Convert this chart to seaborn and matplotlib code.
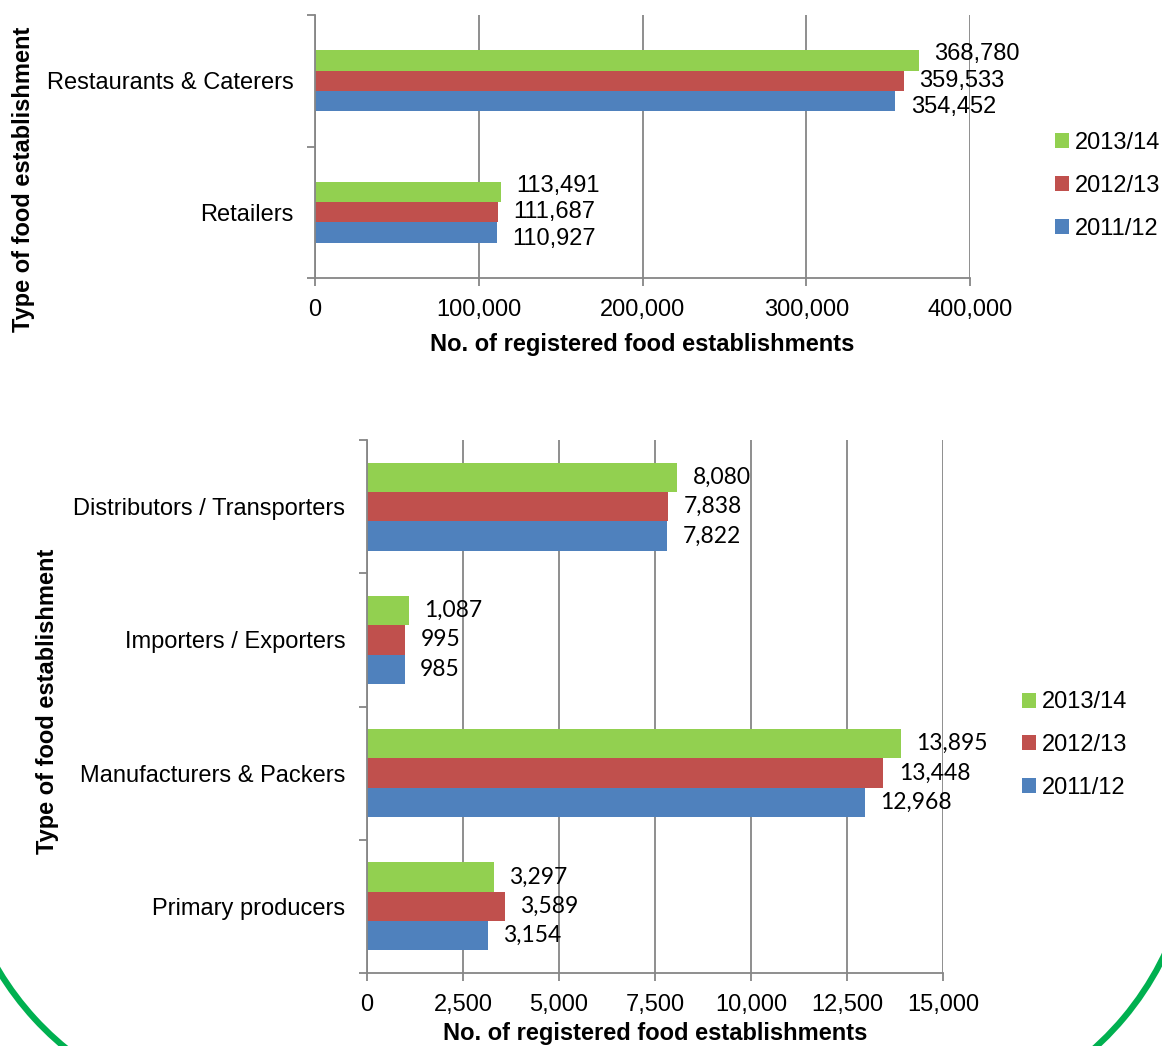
import numpy as np
import pandas as pd
import matplotlib
matplotlib.use("Agg")
import matplotlib.pyplot as plt
import matplotlib.patches as mpatches
from matplotlib.ticker import FuncFormatter, FixedLocator
import seaborn as sns

# Data
YEARS = ["2013/14", "2012/13", "2011/12"]
YEAR_COLORS = {"2013/14": "#92D050", "2012/13": "#C0504D", "2011/12": "#4F81BD"}

TOP_TYPES = ["Restaurants & Caterers", "Retailers"]
TOP_2013 = [368780, 113491]
TOP_2012 = [359533, 111687]
TOP_2011 = [354452, 110927]

BOT_TYPES = ["Distributors / Transporters", "Importers / Exporters",
             "Manufacturers & Packers", "Primary producers"]
BOT_2013 = [8080, 1087, 13895, 3297]
BOT_2012 = [7838, 995, 13448, 3589]
BOT_2011 = [7822, 985, 12968, 3154]

XLABEL = "No. of registered food establishments"
YLABEL = "Type of food establishment"
GRAY = "#868686"


def to_long(types, v13, v12, v11):
    rows = []
    for year, vals in zip(YEARS, [v13, v12, v11]):
        for t, v in zip(types, vals):
            rows.append({"type": t, "year": year, "count": v})
    return pd.DataFrame(rows)


sns.set_theme(style="white")
plt.rcParams["font.family"] = ["Liberation Sans", "DejaVu Sans"]
plt.rcParams["text.color"] = "black"
plt.rcParams["axes.labelcolor"] = "black"
plt.rcParams["xtick.labelcolor"] = "black"
plt.rcParams["ytick.labelcolor"] = "black"

W, H = 1162, 1046
fig = plt.figure(figsize=(W / 100, H / 100), dpi=100)


def px_axes(x0, x1, y0, y1):
    return fig.add_axes([x0 / W, 1 - y1 / H, (x1 - x0) / W, (y1 - y0) / H])


def style_axis(ax, types, xmax, step, label_pad, xlab_y, ylab_x, ylab_y):
    ax.set_xlim(0, xmax)
    ax.xaxis.set_major_locator(FixedLocator(np.arange(0, xmax + 1, step)))
    ax.xaxis.set_major_formatter(FuncFormatter(lambda v, p: f"{v:,.0f}"))
    ax.grid(axis="x", color=GRAY, linewidth=1.3)
    ax.grid(axis="y", visible=False)
    ax.set_axisbelow(True)
    for s in ["top", "right"]:
        ax.spines[s].set_visible(False)
    for s in ["left", "bottom"]:
        ax.spines[s].set_color(GRAY)
        ax.spines[s].set_linewidth(1.3)
    ax.set_ylim(len(types) - 0.5, -0.5)
    ax.yaxis.set_minor_locator(FixedLocator(np.arange(-0.5, len(types), 1.0)))
    ax.tick_params(axis="y", which="major", length=0, pad=label_pad, labelsize=17)
    ax.tick_params(axis="y", which="minor", left=True, length=6, width=1.3, color=GRAY)
    ax.tick_params(axis="x", bottom=True, length=6, width=1.3, color=GRAY, pad=9, labelsize=17)
    ax.set_xlabel(XLABEL, fontsize=17, fontweight="bold")
    ax.set_ylabel(YLABEL, fontsize=17, fontweight="bold")
    ax.xaxis.set_label_coords(0.5, xlab_y)
    ax.yaxis.set_label_coords(ylab_x, ylab_y)


# ---- top chart
ax1 = px_axes(315, 970, 15, 278)
df_top = to_long(TOP_TYPES, TOP_2013, TOP_2012, TOP_2011)
sns.barplot(data=df_top, y="type", x="count", hue="year", order=TOP_TYPES,
            hue_order=YEARS, palette=YEAR_COLORS, width=0.465, orient="h",
            linewidth=0, saturation=1, ax=ax1)
style_axis(ax1, TOP_TYPES, 400000, 100000, 15.5, -0.208, -0.428, 0.376)
for cont, dy in zip(ax1.containers, [4.5, 0, -4.5]):
    anns = ax1.bar_label(cont, fmt="{:,.0f}", padding=11, fontsize=17)
    for a in anns:
        a.xyann = (11, dy)
sns.move_legend(ax1, "center left", bbox_to_anchor=(1055 / W, 1 - 186 / H),
                bbox_transform=fig.transFigure, title=None, frameon=False,
                fontsize=17, handlelength=0.6, handleheight=0.6,
                handletextpad=0.25, labelspacing=0.9, borderpad=0,
                borderaxespad=0)

# ---- bottom chart
ax2 = px_axes(367, 943, 440, 973)
df_bot = to_long(BOT_TYPES, BOT_2013, BOT_2012, BOT_2011)
sns.barplot(data=df_bot, y="type", x="count", hue="year", order=BOT_TYPES,
            hue_order=YEARS, palette=YEAR_COLORS, width=0.66, orient="h",
            linewidth=0, saturation=1, ax=ax2)
style_axis(ax2, BOT_TYPES, 15000, 2500, 15.5, -0.091, -0.534, 0.51)
for cont in ax2.containers:
    ax2.bar_label(cont, fmt="{:,.0f}", padding=11, fontsize=16.5,
                  family=["Lato", "DejaVu Sans"])
sns.move_legend(ax2, "center left", bbox_to_anchor=(1022 / W, 1 - 745 / H),
                bbox_transform=fig.transFigure, title=None, frameon=False,
                fontsize=17, handlelength=0.6, handleheight=0.6,
                handletextpad=0.25, labelspacing=0.87, borderpad=0,
                borderaxespad=0)

# ---- green page border arcs in the bottom corners
inch = fig.dpi_scale_trans
fig.add_artist(mpatches.Arc((255.7 / 100, (H - 815.9) / 100), 6, 6, theta1=200, theta2=245,
                            transform=inch, color="#00B050", linewidth=4.5))
fig.add_artist(mpatches.Arc((894 / 100, (H - 825) / 100), 6, 6, theta1=295, theta2=345,
                            transform=inch, color="#00B050", linewidth=4.5))

fig.savefig("out.png", dpi=100)
plt.close(fig)
